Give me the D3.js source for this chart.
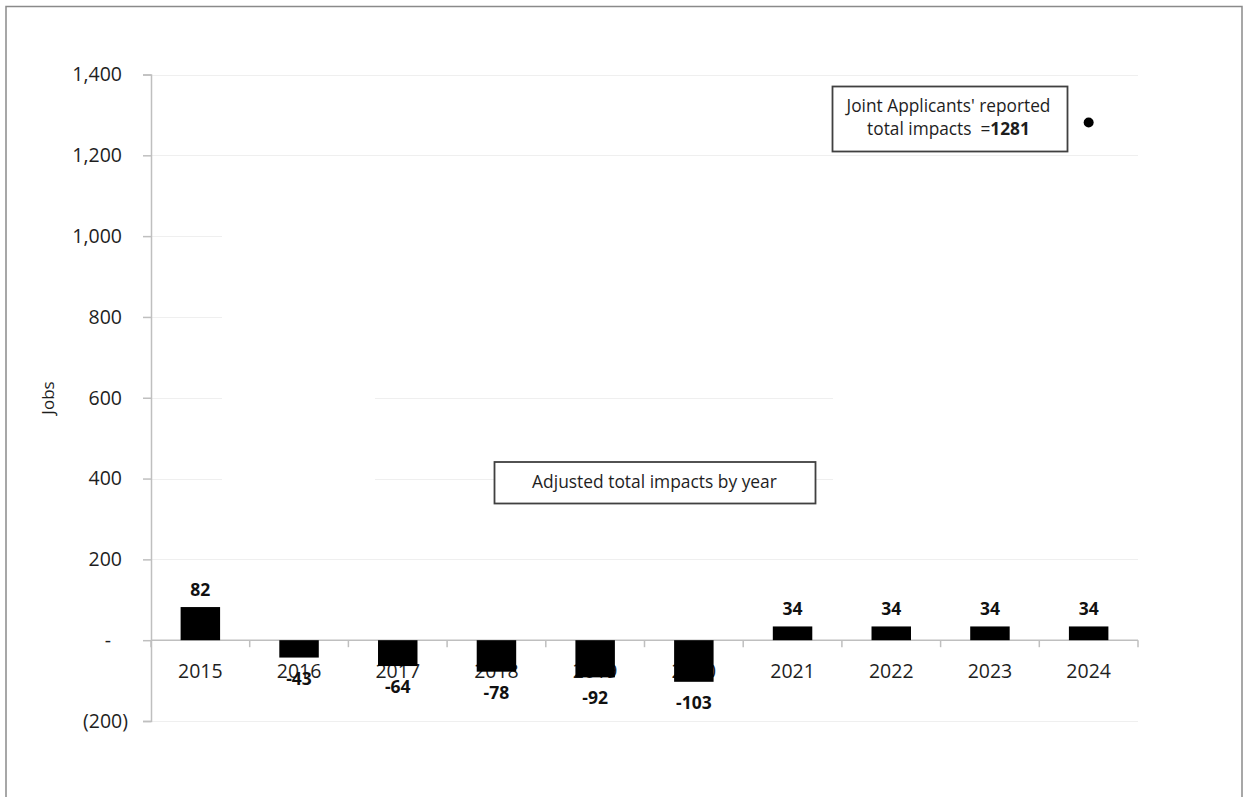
<!DOCTYPE html>
<html>
<head>
<meta charset="utf-8">
<script src="https://cdn.jsdelivr.net/npm/d3@7"></script>
<style>
  html, body { margin: 0; padding: 0; background: #fff; }
  svg { display: block; font-family: "Open Sans", sans-serif; }
</style>
</head>
<body>
<svg id="chart" width="1243" height="797"></svg>
<script>
// Annual job impacts
const years = ["2015", "2016", "2017", "2018", "2019", "2020", "2021", "2022", "2023", "2024"];
const adjustedImpacts = [82, -43, -64, -78, -92, -103, 34, 34, 34, 34];
const reportedYear = "2024";
const reportedTotal = 1281;
const yTicks = [-200, 0, 200, 400, 600, 800, 1000, 1200, 1400];

const svg = d3.select("#chart");

// outer frame
svg.append("rect")
  .attr("x", 6).attr("y", 6.5)
  .attr("width", 1236).attr("height", 820)
  .attr("fill", "#fff")
  .attr("stroke", "#8a8a8a").attr("stroke-width", 1.5);

const x = d3.scaleBand()
  .domain(years)
  .range([151, 1138])
  .paddingInner(0.6)
  .paddingOuter(0.3);

const y = d3.scaleLinear()
  .domain([-200, 1400])
  .range([721, 74.5]);

// horizontal gridlines
svg.append("g")
  .selectAll("line")
  .data(yTicks)
  .join("line")
  .attr("x1", 151).attr("x2", 1138)
  .attr("y1", d => Math.round(y(d)) + 0.5)
  .attr("y2", d => Math.round(y(d)) + 0.5)
  .attr("stroke", "#efefef").attr("stroke-width", 1.2);

// white panels lying over part of the grid
const panels = [
  { x0: 222, x1: 1138, y0: 200, y1: 350 },
  { x0: 222, x1: 375, y0: 350, y1: 520 },
  { x0: 833, x1: 1138, y0: 350, y1: 520 }
];
svg.append("g")
  .selectAll("rect")
  .data(panels)
  .join("rect")
  .attr("x", d => d.x0).attr("y", d => d.y0)
  .attr("width", d => d.x1 - d.x0).attr("height", d => d.y1 - d.y0)
  .attr("fill", "#fff");

// y axis
const fmt = d3.format(",");
const yAxis = svg.append("g")
  .attr("transform", "translate(151,0)")
  .call(d3.axisLeft(y)
    .tickValues(yTicks)
    .tickSize(8)
    .tickPadding(21)
    .tickFormat(d => d === 0 ? "-" : d < 0 ? "(" + fmt(-d) + ")" : fmt(d)));
yAxis.select(".domain").attr("stroke", "#bfbfbf").attr("stroke-width", 1.5);
yAxis.selectAll(".tick line").attr("stroke", "#bfbfbf").attr("stroke-width", 1.5);
yAxis.selectAll(".tick text")
  .attr("fill", "#1e1e1e")
  .style("font-size", "19.5px")
  .style("font-family", "'Open Sans', sans-serif")
  .attr("dx", d => d < 0 ? 6 : d === 0 ? -11 : 0);

// y axis title
svg.append("text")
  .attr("transform", "translate(54,398) rotate(-90)")
  .attr("text-anchor", "middle")
  .attr("fill", "#1e1e1e")
  .style("font-size", "17px")
  .text("Jobs");

// x axis line and category boundary ticks
const zeroY = y(0);
const step = x.step();
const boundaries = d3.range(years.length + 1).map(i => 151 + i * step);
svg.append("line")
  .attr("x1", 151).attr("x2", 1138)
  .attr("y1", zeroY).attr("y2", zeroY)
  .attr("stroke", "#bfbfbf").attr("stroke-width", 1.5);
svg.append("g")
  .selectAll("line")
  .data(boundaries)
  .join("line")
  .attr("x1", d => d).attr("x2", d => d)
  .attr("y1", zeroY).attr("y2", zeroY + 7)
  .attr("stroke", "#bfbfbf").attr("stroke-width", 1.5);

// year labels (bars are drawn over them)
svg.append("g")
  .selectAll("text")
  .data(years)
  .join("text")
  .attr("x", d => x(d) + x.bandwidth() / 2)
  .attr("y", 678)
  .attr("text-anchor", "middle")
  .attr("fill", "#1e1e1e")
  .style("font-size", "19.5px")
  .text(d => d);

// bars
const rows = years.map((yr, i) => ({ year: yr, value: adjustedImpacts[i] }));
svg.append("g")
  .selectAll("rect")
  .data(rows)
  .join("rect")
  .attr("x", d => x(d.year))
  .attr("width", x.bandwidth())
  .attr("y", d => y(Math.max(0, d.value)))
  .attr("height", d => Math.abs(y(d.value) - y(0)))
  .attr("fill", "#000");

// value labels
svg.append("g")
  .selectAll("text")
  .data(rows)
  .join("text")
  .attr("x", d => x(d.year) + x.bandwidth() / 2)
  .attr("y", d => d.value >= 0 ? y(d.value) - 11.5 : y(d.value) + 27)
  .attr("text-anchor", "middle")
  .attr("fill", "#111")
  .style("font-size", "17.5px")
  .style("font-weight", "bold")
  .text(d => d.value);

// reported total marker
svg.append("circle")
  .attr("cx", x(reportedYear) + x.bandwidth() / 2)
  .attr("cy", y(reportedTotal))
  .attr("r", 5)
  .attr("fill", "#000");

// callout: reported total
svg.append("rect")
  .attr("x", 832.5).attr("y", 86.5)
  .attr("width", 235).attr("height", 65)
  .attr("fill", "#fff")
  .attr("stroke", "#404040").attr("stroke-width", 1.8);
const callout = svg.append("text")
  .attr("text-anchor", "middle")
  .attr("fill", "#1e1e1e")
  .style("font-size", "17.3px")
  .style("white-space", "pre");
callout.append("tspan")
  .attr("x", 948.5).attr("y", 112)
  .text("Joint Applicants' reported");
const line2 = callout.append("tspan")
  .attr("x", 948.5).attr("y", 135);
line2.append("tspan").text("total impacts  =");
line2.append("tspan").style("font-weight", "bold").text(reportedTotal);

// callout: adjusted series
svg.append("rect")
  .attr("x", 494.5).attr("y", 462)
  .attr("width", 321).attr("height", 41.5)
  .attr("fill", "#fff")
  .attr("stroke", "#404040").attr("stroke-width", 1.8);
svg.append("text")
  .attr("x", 654.5).attr("y", 488)
  .attr("text-anchor", "middle")
  .attr("fill", "#1e1e1e")
  .style("font-size", "17.4px")
  .text("Adjusted total impacts by year");
</script>
</body>
</html>
